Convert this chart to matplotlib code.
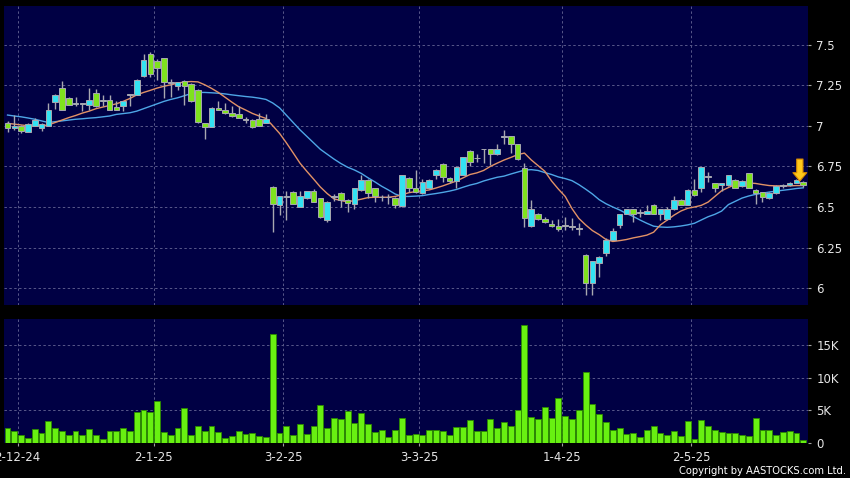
import matplotlib
matplotlib.use('Agg')
import matplotlib.pyplot as plt
import numpy as np

# ---- data (daily bars, 28-Nov-2024 .. 27-May-2025) ----
opens = [7.015, 6.985, 7.0, 6.96, 7.0, 6.985, 7.0, 7.145, 7.23, 7.17,
         7.135, 7.135, 7.13, 7.2, 7.15, 7.16, 7.115, 7.12, 7.19, 7.19,
         7.305, 7.44, 7.40, 7.42, 7.265, 7.245, 7.275, 7.26, 7.22, 7.02,
         6.99, 7.11, 7.10, 7.08, 7.075, 7.035, 7.035, 7.04, 7.015, 6.625,
         6.51, 6.56, 6.59, 6.50, 6.555, 6.60, 6.555, 6.42, 6.56, 6.585,
         6.545, 6.52, 6.605, 6.665, 6.615, 6.56, 6.56, 6.555, 6.505, 6.68,
         6.62, 6.585, 6.615, 6.70, 6.765, 6.68, 6.66, 6.70, 6.845, 6.80,
         6.855, 6.855, 6.825, 6.93, 6.935, 6.885, 6.74, 6.385, 6.46, 6.425,
         6.395, 6.385, 6.385, 6.38, 6.365, 6.205, 6.03, 6.155, 6.22, 6.30,
         6.39, 6.455, 6.485, 6.465, 6.46, 6.51, 6.46, 6.425, 6.485, 6.545,
         6.51, 6.605, 6.615, 6.685, 6.645, 6.635, 6.635, 6.665, 6.63, 6.71,
         6.605, 6.59, 6.555, 6.585, 6.63, 6.635, 6.65, 6.655]
highs = [7.03, 7.065, 7.005, 7.02, 7.05, 7.02, 7.14, 7.195, 7.275, 7.18,
         7.18, 7.135, 7.23, 7.225, 7.19, 7.19, 7.15, 7.15, 7.19, 7.285,
         7.44, 7.455, 7.41, 7.42, 7.29, 7.27, 7.28, 7.265, 7.225, 7.02,
         7.115, 7.15, 7.14, 7.12, 7.12, 7.055, 7.04, 7.08, 7.075, 6.63,
         6.565, 6.60, 6.60, 6.60, 6.60, 6.61, 6.555, 6.535, 6.58, 6.59,
         6.55, 6.62, 6.695, 6.67, 6.62, 6.575, 6.58, 6.56, 6.70, 6.685,
         6.73, 6.67, 6.67, 6.735, 6.77, 6.685, 6.75, 6.81, 6.85, 6.825,
         6.855, 6.86, 6.885, 6.975, 6.94, 6.89, 6.77, 6.545, 6.465, 6.44,
         6.42, 6.425, 6.44, 6.435, 6.40, 6.21, 6.17, 6.20, 6.31, 6.37,
         6.46, 6.49, 6.49, 6.49, 6.51, 6.52, 6.49, 6.50, 6.565, 6.55,
         6.61, 6.67, 6.745, 6.715, 6.65, 6.65, 6.70, 6.67, 6.665, 6.71,
         6.61, 6.595, 6.59, 6.635, 6.64, 6.655, 6.67, 6.66]
lows = [6.96, 6.975, 6.955, 6.96, 7.0, 6.97, 7.0, 7.105, 7.095, 7.125,
        7.12, 7.09, 7.10, 7.115, 7.12, 7.10, 7.095, 7.09, 7.12, 7.19,
        7.30, 7.30, 7.28, 7.17, 7.18, 7.22, 7.13, 7.145, 7.02, 6.92,
        6.99, 7.095, 7.075, 7.055, 7.05, 7.015, 6.985, 7.0, 7.015, 6.345,
        6.45, 6.42, 6.52, 6.50, 6.55, 6.53, 6.43, 6.41, 6.54, 6.50,
        6.47, 6.485, 6.60, 6.555, 6.53, 6.54, 6.52, 6.495, 6.50, 6.595,
        6.585, 6.58, 6.61, 6.675, 6.655, 6.65, 6.615, 6.70, 6.75, 6.78,
        6.77, 6.76, 6.82, 6.885, 6.83, 6.79, 6.38, 6.38, 6.42, 6.40,
        6.38, 6.355, 6.36, 6.36, 6.33, 5.96, 5.96, 6.07, 6.20, 6.295,
        6.37, 6.455, 6.41, 6.44, 6.46, 6.455, 6.42, 6.42, 6.48, 6.51,
        6.51, 6.57, 6.595, 6.655, 6.59, 6.60, 6.63, 6.615, 6.625, 6.615,
        6.52, 6.53, 6.55, 6.58, 6.62, 6.63, 6.645, 6.625]
closes = [6.985, 7.0, 6.97, 7.01, 7.035, 7.01, 7.095, 7.19, 7.10, 7.13,
          7.14, 7.135, 7.16, 7.12, 7.16, 7.10, 7.10, 7.15, 7.19, 7.28,
          7.405, 7.32, 7.355, 7.27, 7.265, 7.27, 7.245, 7.15, 7.025, 6.99,
          7.11, 7.10, 7.08, 7.06, 7.05, 7.035, 6.99, 7.0, 7.04, 6.52,
          6.565, 6.565, 6.52, 6.565, 6.60, 6.53, 6.44, 6.53, 6.565, 6.545,
          6.525, 6.62, 6.665, 6.585, 6.567, 6.56, 6.56, 6.51, 6.70, 6.615,
          6.59, 6.655, 6.665, 6.73, 6.685, 6.66, 6.745, 6.805, 6.78, 6.80,
          6.855, 6.825, 6.855, 6.935, 6.89, 6.795, 6.43, 6.49, 6.425, 6.41,
          6.385, 6.365, 6.385, 6.38, 6.365, 6.03, 6.165, 6.195, 6.30, 6.35,
          6.455, 6.485, 6.46, 6.465, 6.475, 6.46, 6.485, 6.49, 6.545, 6.51,
          6.605, 6.575, 6.745, 6.685, 6.62, 6.645, 6.695, 6.62, 6.66, 6.62,
          6.585, 6.56, 6.585, 6.63, 6.63, 6.65, 6.665, 6.635]
# moving-average lines (orange = short, blue = long)
ma_short = [7.015, 7.01, 7.005, 7.0, 7.0, 7.0, 7.005, 7.02, 7.035, 7.05,
            7.063, 7.078, 7.09, 7.105, 7.115, 7.125, 7.135, 7.15, 7.168, 7.19,
            7.205, 7.218, 7.232, 7.243, 7.252, 7.262, 7.27, 7.272, 7.27, 7.252,
            7.23, 7.205, 7.175, 7.145, 7.117, 7.097, 7.076, 7.06, 7.045, 7.0,
            6.953, 6.895, 6.833, 6.77, 6.72, 6.672, 6.623, 6.583, 6.55, 6.54,
            6.532, 6.54, 6.548, 6.558, 6.56, 6.56, 6.56, 6.565, 6.575, 6.588,
            6.595, 6.60, 6.605, 6.617, 6.63, 6.645, 6.66, 6.68, 6.70, 6.71,
            6.725, 6.75, 6.77, 6.789, 6.805, 6.822, 6.832, 6.79, 6.755, 6.72,
            6.66, 6.61, 6.565, 6.49, 6.43, 6.39, 6.355, 6.33, 6.30, 6.288,
            6.293, 6.30, 6.31, 6.318, 6.327, 6.345, 6.39, 6.42, 6.45, 6.475,
            6.492, 6.50, 6.51, 6.53, 6.565, 6.60, 6.62, 6.638, 6.645, 6.648,
            6.645, 6.638, 6.632, 6.63, 6.63, 6.63, 6.632, 6.632]
ma_long = [7.066, 7.06, 7.055, 7.048, 7.04, 7.03, 7.02, 7.025, 7.03, 7.035,
           7.04, 7.043, 7.047, 7.05, 7.055, 7.06, 7.07, 7.075, 7.08, 7.09,
           7.105, 7.12, 7.135, 7.15, 7.162, 7.172, 7.185, 7.198, 7.205, 7.205,
           7.203, 7.2, 7.196, 7.19, 7.185, 7.18, 7.176, 7.17, 7.162, 7.14,
           7.11, 7.065, 7.02, 6.975, 6.935, 6.895, 6.855, 6.825, 6.795, 6.768,
           6.745, 6.728, 6.707, 6.68, 6.655, 6.628, 6.605, 6.58, 6.565, 6.565,
           6.567, 6.57, 6.577, 6.583, 6.59, 6.598, 6.608, 6.622, 6.635, 6.645,
           6.66, 6.672, 6.683, 6.69, 6.703, 6.715, 6.727, 6.73, 6.725, 6.712,
           6.70, 6.685, 6.675, 6.662, 6.638, 6.61, 6.58, 6.545, 6.52, 6.50,
           6.482, 6.46, 6.442, 6.42, 6.40, 6.382, 6.377, 6.375, 6.378, 6.383,
           6.39, 6.40, 6.42, 6.44, 6.455, 6.475, 6.515, 6.535, 6.555, 6.568,
           6.578, 6.585, 6.592, 6.598, 6.603, 6.608, 6.614, 6.618]
volume_k = [2.4, 1.8, 1.2, 0.8, 2.2, 1.6, 3.35, 2.3, 1.8, 1.2,
            1.9, 1.3, 2.2, 1.3, 0.7, 1.8, 1.8, 2.4, 1.9, 4.8,
            5.1, 4.8, 6.4, 1.7, 1.2, 2.3, 5.4, 1.2, 2.6, 1.9,
            2.7, 1.7, 0.75, 1.1, 1.8, 1.4, 1.5, 1.1, 0.9, 16.7,
            1.6, 2.7, 1.2, 2.9, 1.4, 2.6, 5.8, 2.3, 3.8, 3.7,
            4.9, 3.1, 4.6, 2.9, 1.7, 2.1, 1.0, 2.1, 3.8, 1.3,
            1.4, 1.3, 2.1, 2.1, 1.8, 1.2, 2.5, 2.5, 3.6, 1.9,
            1.8, 3.7, 2.3, 3.3, 2.7, 5.1, 18.0, 4.0, 3.7, 5.5,
            3.9, 6.9, 4.1, 3.7, 5.1, 10.8, 6.0, 4.5, 3.2, 2.0,
            2.3, 1.4, 1.6, 0.9, 2.1, 2.7, 1.6, 1.2, 1.9, 1.1,
            3.4, 0.6, 3.5, 2.7, 2.0, 1.7, 1.6, 1.5, 1.3, 1.1,
            3.8, 2.1, 2.1, 1.3, 1.7, 1.8, 1.5, 0.45]

month_start_bars = [2, 22, 41, 61, 82, 101]
month_labels = ['2-12-24', '2-1-25', '3-2-25', '3-3-25', '1-4-25', '2-5-25']
price_ticks = [6.0, 6.25, 6.5, 6.75, 7.0, 7.25, 7.5]
price_tick_labels = ['6', '6.25', '6.5', '6.75', '7', '7.25', '7.5']
vol_ticks = [0, 5000, 10000, 15000]
vol_tick_labels = ['0', '5K', '10K', '15K']

# ---- styling ----
NAVY = '#000044'
GRID = '#58588a'
UP = '#33e2f2'
DOWN = '#7fe21e'
EDGE = '#a8a8b0'
TXT = '#e6e6e6'

o = np.array(opens); h = np.array(highs); l = np.array(lows); c = np.array(closes)
x = np.arange(len(o))
vol = np.array(volume_k) * 1000

fig = plt.figure(figsize=(8.5, 4.78), dpi=100, facecolor='black')
W, H = 850.0, 478.0
ax = fig.add_axes([4 / W, 1 - 305 / H, 804 / W, 299 / H])
axv = fig.add_axes([4 / W, 1 - 443.3 / H, 804 / W, 124 / H])

grid_pos = [b - 0.5 for b in month_start_bars]

for a in (ax, axv):
    a.set_facecolor(NAVY)
    for s in a.spines.values():
        s.set_visible(False)
    a.set_xlim(-0.52, len(o) - 0.3)
    a.yaxis.tick_right()
    a.tick_params(axis='y', direction='out', length=2.5, width=0.8, color='#a0a0a0',
                  labelcolor=TXT, labelsize=8.5, pad=3.5)
    a.set_xticks(grid_pos)
    a.set_axisbelow(True)
    a.grid(True, color=GRID, linestyle=(0, (2.5, 2.5)), linewidth=0.7)

# price panel
ax.set_ylim(5.897, 7.737)
ax.set_yticks(price_ticks)
ax.set_yticklabels(price_tick_labels)
ax.tick_params(axis='x', length=0, labelbottom=False)

ax.plot(x, ma_long, color='#4ea6e6', lw=1.0, zorder=1.5)
ax.plot(x, ma_short, color='#e29266', lw=1.0, zorder=1.6)
ax.vlines(x, l, h, color=EDGE, lw=1.0, zorder=2)
body_lo = np.minimum(o, c)
body_h = np.maximum(np.abs(c - o), 0.004)
cols = [UP if cc > oo else (DOWN if cc < oo else '#9cc4d8') for oo, cc in zip(o, c)]
ax.bar(x, body_h, bottom=body_lo, width=0.82, color=cols, edgecolor=EDGE,
       linewidth=0.7, zorder=3)

# marker arrow above the latest bars
ax.annotate('', xy=(x[-1] - 0.5, h[-1]), xytext=(x[-1] - 0.5, h[-1] + 0.135),
            arrowprops=dict(arrowstyle='simple,head_width=1.0,head_length=0.6,tail_width=0.45',
                            mutation_scale=10, fc='#ffc81a', ec='#d88a00', lw=0.8,
                            shrinkA=0, shrinkB=0), zorder=5)

# volume panel
axv.set_ylim(0, 18900)
axv.set_yticks(vol_ticks)
axv.set_yticklabels(vol_tick_labels)
axv.bar(x, vol, width=0.86, color='#68f011', edgecolor='#2c8a00', linewidth=0.6, zorder=3)
axv.set_xticklabels(month_labels)
axv.tick_params(axis='x', direction='out', length=2.5, width=0.8, color='#a0a0a0',
                labelcolor=TXT, labelsize=8.5, pad=3)

fig.text(846 / W, 1 - 471 / H, 'Copyright by AASTOCKS.com Ltd.', ha='right', va='center',
         color='white', fontsize=7.2)

fig.savefig('out.png', dpi=100, facecolor='black')
